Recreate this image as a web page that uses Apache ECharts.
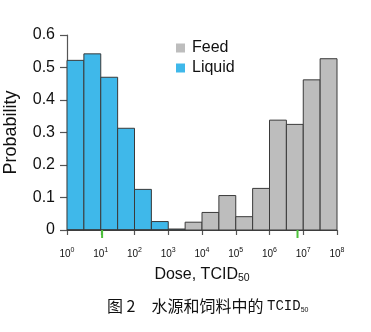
<!DOCTYPE html>
<html>
<head>
<meta charset="utf-8">
<script src="https://cdn.jsdelivr.net/npm/echarts@6/dist/echarts.min.js"></script>
<style>
  html, body { margin: 0; padding: 0; background: #fff; }
  #chart { width: 371px; height: 332px; }
</style>
</head>
<body>
<div id="chart"></div>
<script>
// Histogram bins: half-decade intervals of log10(dose), from 10^0 to 10^8
const binStarts = [0, 0.5, 1, 1.5, 2, 2.5, 3, 3.5, 4, 4.5, 5, 5.5, 6, 6.5, 7, 7.5];
const binWidth = 0.5;
// Probability per bin
const liquidProb = [0.522, 0.542, 0.470, 0.313, 0.125, 0.026, 0.003, 0, 0, 0, 0, 0, 0, 0, 0, 0];
const feedProb   = [0, 0, 0, 0, 0, 0, 0, 0.024, 0.054, 0.106, 0.041, 0.128, 0.338, 0.325, 0.462, 0.527];
// Median dose markers (log10)
const medianLog = [1.04, 6.83];
// Axis ticks
const xTickExponents = [0, 1, 2, 3, 4, 5, 6, 7, 8];
const yTicks = [0, 0.1, 0.2, 0.3, 0.4, 0.5, 0.6];

const font = "'Liberation Sans', Arial, Helvetica, sans-serif";
const cjk = "'Noto Sans CJK SC', sans-serif";

function histData(values) {
  return binStarts.map((s, i) => [s, s + binWidth, values[i]]);
}

function renderBar(params, api) {
  const p0 = api.coord([api.value(0), 0]);
  const p1 = api.coord([api.value(1), api.value(2)]);
  return {
    type: 'rect',
    shape: { x: p0[0], y: p1[1], width: p1[0] - p0[0], height: p0[1] - p1[1] },
    style: { fill: api.visual('color'), stroke: '#3a3a3a', lineWidth: 1 }
  };
}

function renderMedian(params, api) {
  const p = api.coord([api.value(0), 0]);
  return {
    type: 'line',
    shape: { x1: p[0], y1: p[1], x2: p[0], y2: p[1] + 8 },
    style: { stroke: '#4cc23a', lineWidth: 2 }
  };
}

const chart = echarts.init(document.getElementById('chart'), null, { renderer: 'canvas' });

chart.setOption({
  animation: false,
  backgroundColor: '#ffffff',
  grid: { left: 67, right: 34, top: 35, bottom: 102, containLabel: false, outerBoundsMode: 'none' },
  title: {
    text: '{c|图 2　水源和饲料中的 }{m|TCID}{s|50}',
    left: 102,
    top: 293,
    textStyle: {
      fontWeight: 'normal',
      rich: {
        c: { fontFamily: cjk, fontSize: 16, fontWeight: 'normal', color: '#111' },
        m: { fontFamily: "'Liberation Mono', 'DejaVu Sans Mono', monospace", fontSize: 14, fontWeight: 'normal', color: '#111' },
        s: { fontFamily: font, fontSize: 7, fontWeight: 'normal', color: '#111', verticalAlign: 'bottom', padding: [6, 0, 0, 0] }
      }
    }
  },
  legend: {
    orient: 'vertical',
    left: 171,
    top: 35,
    itemWidth: 9,
    itemHeight: 9,
    itemGap: 4,
    icon: 'rect',
    itemStyle: { borderWidth: 0 },
    textStyle: { fontFamily: font, fontSize: 16, color: '#111', padding: [0, 0, 0, 2] },
    data: ['Feed', 'Liquid']
  },
  xAxis: {
    type: 'value',
    min: 0,
    max: 8,
    interval: 1,
    offset: 8,
    splitLine: { show: false },
    axisLine: { show: true, lineStyle: { color: '#555', width: 1.2 } },
    axisTick: { show: true, length: 5, lineStyle: { color: '#555', width: 1.2 } },
    axisLabel: {
      margin: 9,
      formatter: v => xTickExponents.includes(v) ? '{b|10}{s|' + v + '}' : '',
      rich: {
        b: { fontFamily: font, fontSize: 10, color: '#111', lineHeight: 12, verticalAlign: 'bottom' },
        s: { fontFamily: font, fontSize: 7, color: '#111', lineHeight: 12, verticalAlign: 'top', padding: [0, 0, 4, 0] }
      }
    },
    name: 'Dose, TCID{sub|50}',
    nameLocation: 'middle',
    nameGap: 28,
    nameTextStyle: {
      fontFamily: font,
      fontSize: 16,
      color: '#111',
      rich: { sub: { fontFamily: font, fontSize: 10.5, color: '#111', verticalAlign: 'bottom', padding: [7, 0, 0, 0] } }
    }
  },
  yAxis: {
    type: 'value',
    min: 0,
    max: 0.6,
    interval: 0.1,
    splitLine: { show: false },
    axisLine: { show: true, lineStyle: { color: '#555', width: 1.2 } },
    axisTick: { show: true, length: 7, lineStyle: { color: '#555', width: 1.2 } },
    axisLabel: {
      margin: 12,
      fontFamily: font,
      fontSize: 16,
      color: '#111',
      formatter: v => yTicks.find(t => Math.abs(t - v) < 1e-9) === 0 ? '0' : String(Math.round(v * 10) / 10)
    },
    name: 'Probability',
    nameLocation: 'middle',
    nameGap: 47,
    nameTextStyle: { fontFamily: font, fontSize: 18, color: '#111' }
  },
  series: [
    {
      name: 'Liquid',
      type: 'custom',
      renderItem: renderBar,
      itemStyle: { color: '#3fb8ea' },
      encode: { x: [0, 1], y: 2 },
      data: histData(liquidProb),
      z: 2
    },
    {
      name: 'Feed',
      type: 'custom',
      renderItem: renderBar,
      itemStyle: { color: '#bdbdbd' },
      encode: { x: [0, 1], y: 2 },
      data: histData(feedProb),
      z: 2
    },
    {
      name: 'median',
      type: 'custom',
      renderItem: renderMedian,
      clip: false,
      encode: { x: 0 },
      data: medianLog.map(v => [v]),
      z: 3,
      silent: true
    }
  ]
});
</script>
</body>
</html>
